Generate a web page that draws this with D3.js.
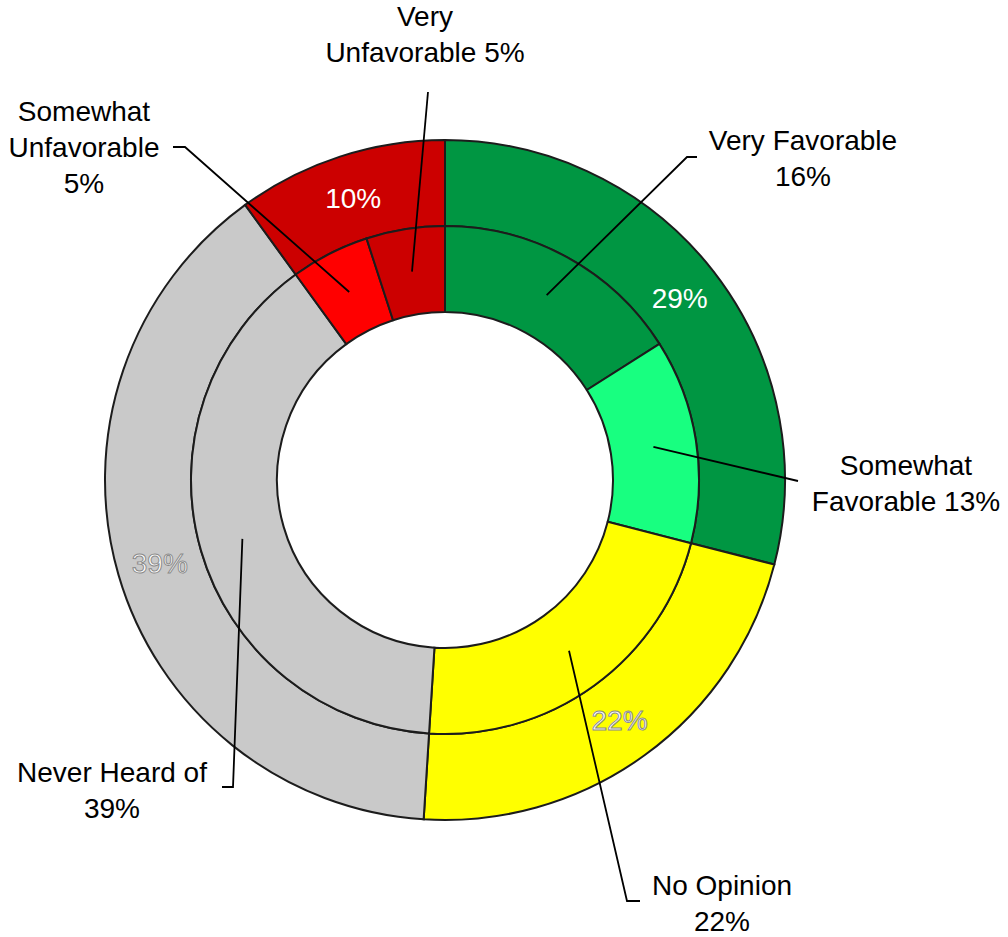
<!DOCTYPE html>
<html>
<head>
<meta charset="utf-8">
<script src="https://cdn.jsdelivr.net/npm/d3@7"></script>
<style>
  body { margin: 0; background: #fff; }
  svg text { font-family: "Liberation Sans", Arial, sans-serif; }
</style>
</head>
<body>
<div id="chart"></div>
<script>
// outer ring: combined groups
var outerCats = ["Favorable", "No Opinion", "Never Heard of", "Unfavorable"];
var outerValues = [29, 22, 39, 10];

// inner ring: detail
var innerCats = ["Very Favorable", "Somewhat Favorable", "No Opinion", "Never Heard of", "Somewhat Unfavorable", "Very Unfavorable"];
var innerValues = [16, 13, 22, 39, 5, 5];

// colours
var outerColors = ["#009642", "#ffff00", "#c9c9c9", "#cc0000"];
var innerColors = ["#009642", "#18ff80", "#ffff00", "#c9c9c9", "#ff0000", "#cc0000"];
var outerLabelStroke = [null, "#8a8a8a", "#8a8a8a", null];

// label layout for inner ring callouts (words per line, text centre, leader bends)
var calloutLayout = [
    { lines: [2, 1],    x: 803, y: 150, bend: [[687, 157], [697, 157]] },
    { lines: [1, 2],    x: 906, y: 475, bend: [[798, 481]] },
    { lines: [2, 1],    x: 722, y: 895, bend: [[627, 901], [640, 901]] },
    { lines: [3, 1],    x: 112, y: 782, bend: [[233, 787], [222, 787]] },
    { lines: [1, 1, 1], x: 84,  y: 121, bend: [[185, 147], [173, 147]] },
    { lines: [1, 2],    x: 425, y: 26,  bend: [[428, 92]] }
];

var width = 1008, height = 937;
var cx = 445, cy = 480;
var rOuter = 340, rMid = 254, rInner = 168;
var lineH = 36;

var svg = d3.select('#chart').append('svg')
    .attr('width', width)
    .attr('height', height);

var g = svg.append('g')
    .attr('transform', 'translate(' + cx + ',' + cy + ')');

var pie = d3.pie().sort(null).value(function(d) { return d; });

var outerArc = d3.arc().innerRadius(rMid).outerRadius(rOuter);
var innerArc = d3.arc().innerRadius(rInner).outerRadius(rMid);

var outerData = pie(outerValues);
var innerData = pie(innerValues);

// outer ring
g.selectAll('path.outer')
    .data(outerData)
    .enter().append('path')
    .attr('class', 'outer')
    .attr('d', outerArc)
    .style('fill', function(d, i) { return outerColors[i]; })
    .style('stroke', '#1c1c1c')
    .style('stroke-width', 2);

// inner ring
g.selectAll('path.inner')
    .data(innerData)
    .enter().append('path')
    .attr('class', 'inner')
    .attr('d', innerArc)
    .style('fill', function(d, i) { return innerColors[i]; })
    .style('stroke', '#1c1c1c')
    .style('stroke-width', 2);

// outer ring percentages
g.selectAll('text.outer-label')
    .data(outerData)
    .enter().append('text')
    .attr('class', 'outer-label')
    .attr('x', function(d) { return outerArc.centroid(d)[0]; })
    .attr('y', function(d) { return outerArc.centroid(d)[1]; })
    .attr('dy', '0.36em')
    .attr('text-anchor', 'middle')
    .style('font-size', '28px')
    .style('fill', '#fff')
    .style('stroke', function(d, i) { return outerLabelStroke[i] || 'none'; })
    .style('stroke-width', 1)
    .text(function(d) { return d.value + '%'; });

// callout leaders
var line = d3.line();
g.selectAll('path.leader')
    .data(innerData)
    .enter().append('path')
    .attr('class', 'leader')
    .attr('d', function(d, i) {
        var pts = [innerArc.centroid(d)];
        calloutLayout[i].bend.forEach(function(p) { pts.push([p[0] - cx, p[1] - cy]); });
        return line(pts);
    })
    .style('fill', 'none')
    .style('stroke', '#000')
    .style('stroke-width', 1.8);

// callout text
innerData.forEach(function(d, i) {
    var lay = calloutLayout[i];
    var words = (innerCats[i] + ' ' + d.value + '%').split(' ');
    var rows = [];
    var k = 0;
    lay.lines.forEach(function(n) {
        rows.push(words.slice(k, k + n).join(' '));
        k += n;
    });

    var t = svg.append('text')
        .attr('text-anchor', 'middle')
        .style('font-size', '28px')
        .style('fill', '#000');

    rows.forEach(function(r, j) {
        t.append('tspan')
            .attr('x', lay.x)
            .attr('y', lay.y + j * lineH)
            .text(r);
    });
});
</script>
</body>
</html>
